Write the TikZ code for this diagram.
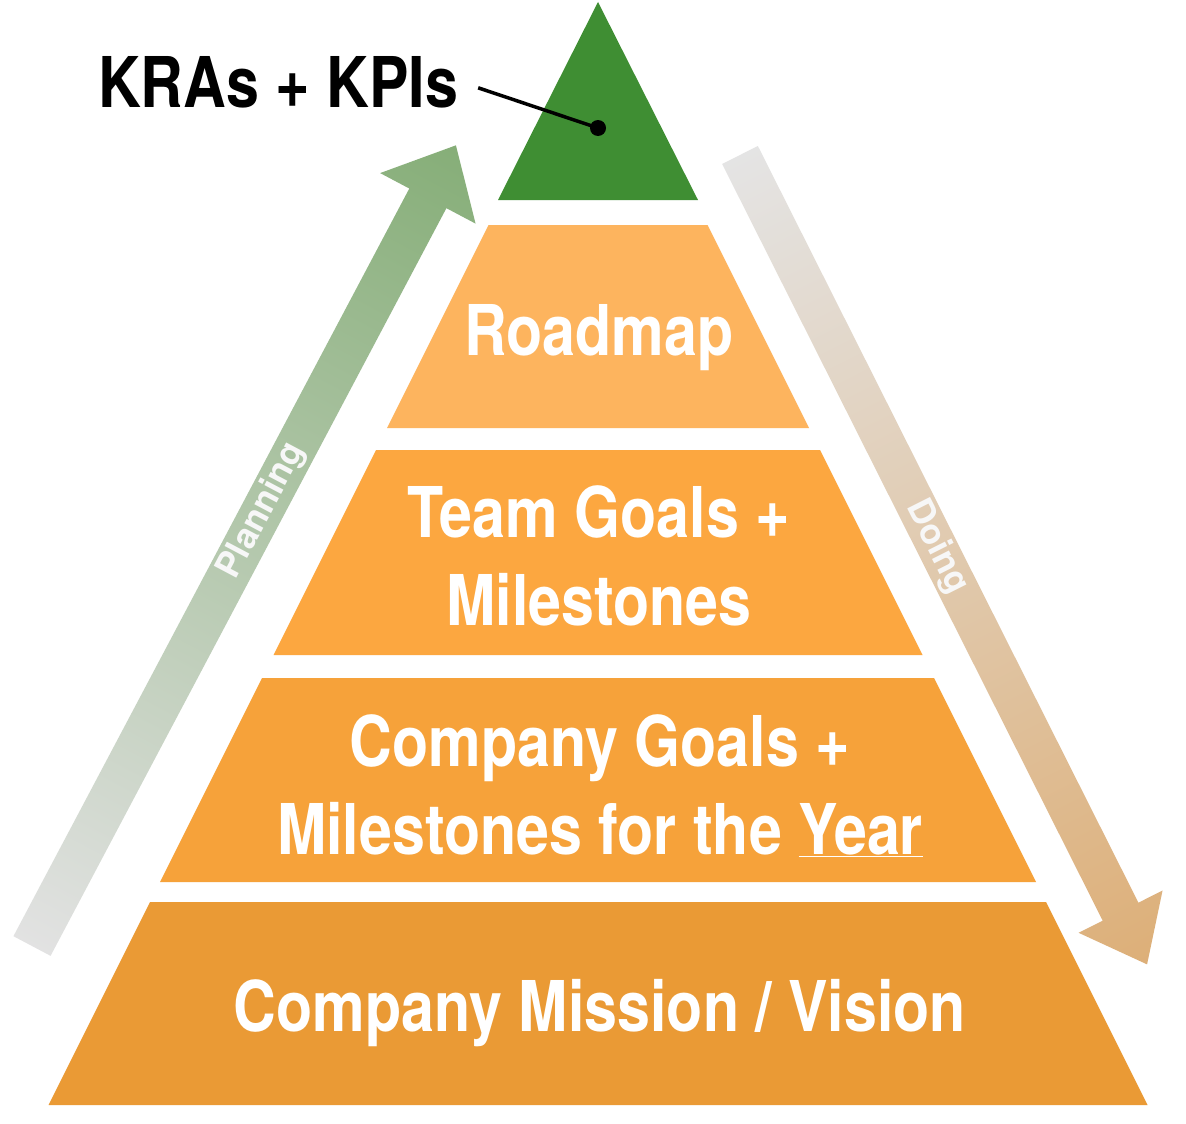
\documentclass[tikz,border=0pt]{standalone}
\usepackage{fontspec}
\newfontfamily\pyrfont[FakeStretch=0.845]{TeX Gyre Heros}
\newfontfamily\labfont{TeX Gyre Heros}
\definecolor{kgreen}{HTML}{3F8E33}
\definecolor{troad}{HTML}{FDB45E}
\definecolor{tteam}{HTML}{FCA740}
\definecolor{tcomp}{HTML}{F6A23A}
\definecolor{tmiss}{HTML}{EA9A35}
\definecolor{plangrey}{HTML}{E2E2E2}
\definecolor{planmid}{HTML}{A8B8A0}
\definecolor{plangreen}{HTML}{86AE78}
\definecolor{doinggrey}{HTML}{E4E4E4}
\definecolor{doingmid}{HTML}{BDB5AB}
\definecolor{doingtan}{HTML}{DDAF78}
\begin{document}
\begin{tikzpicture}[x=1pt,y=-1pt,
  tiertext/.style={text=white, font=\pyrfont\bfseries\fontsize{70}{88}\selectfont,
    align=center, inner sep=0pt, anchor=north},
  arrowtext/.style={text=#1, font=\labfont\bfseries\fontsize{35}{40}\selectfont, inner sep=0pt},
  leader/.style={line width=3.5pt, black},
]
\useasboundingbox (0,0) rectangle (1186,1124);
\fill[white] (0,0) rectangle (1186,1124);

% Planning arrow
\begin{scope}[transform canvas={shift={(32,946)}, rotate=62.1}]
  \shade[left color=plangrey, middle color=planmid, right color=plangreen]
    (0,-21) -- (846,-21) -- (846,-54) -- (906,0) -- (846,54) -- (846,21) -- (0,21) -- cycle;
\end{scope}
\node[arrowtext=white!94!gray, rotate=62.1] (planning) at (262,511) {Planning};

% Doing arrow
\begin{scope}[transform canvas={shift={(740,155)}, rotate=-63.3}]
  \shade[left color=doinggrey, middle color=doingmid, right color=doingtan]
    (0,-20) -- (847,-20) -- (847,-47) -- (906,0) -- (847,47) -- (847,20) -- (0,20) -- cycle;
\end{scope}
\node[arrowtext=white!94!gray, rotate=-63.3] (doing) at (937,547) {Doing};

% pyramid tiers
\fill[kgreen] (598,2) -- (698,200) -- (498,200) -- cycle;
\fill[troad] (488.5,225) -- (707.5,225) -- (809,428) -- (387,428) -- cycle;
\fill[tteam] (376,450) -- (820,450) -- (922.5,655) -- (273.5,655) -- cycle;
\fill[tcomp] (262,678) -- (934,678) -- (1036,882) -- (160,882) -- cycle;
\fill[tmiss] (150,902) -- (1046,902) -- (1147.5,1105) -- (48.5,1105) -- cycle;

% tier texts
\node[tiertext] (roadmap) at (599,304) {Roadmap};
\node[tiertext] (team) at (599,485) {Team Goals +\\Milestones};
\node[tiertext] (company) at (600,714) {Company Goals +\\Milestones for the \underline{Year}};
\node[tiertext] (mission) at (600,979) {Company Mission / Vision};

% KRAs + KPIs label
\node[anchor=base, inner sep=0pt, text=black,
  font=\pyrfont\bfseries\fontsize{70}{80}\selectfont] (kra) at (278,107) {KRAs + KPIs};
\coordinate (dot) at (598,128);
\draw[leader] ([xshift=20pt,yshift=-6pt]kra.east) -- (dot);
\fill[black] (dot) circle (8);
\end{tikzpicture}
\end{document}
